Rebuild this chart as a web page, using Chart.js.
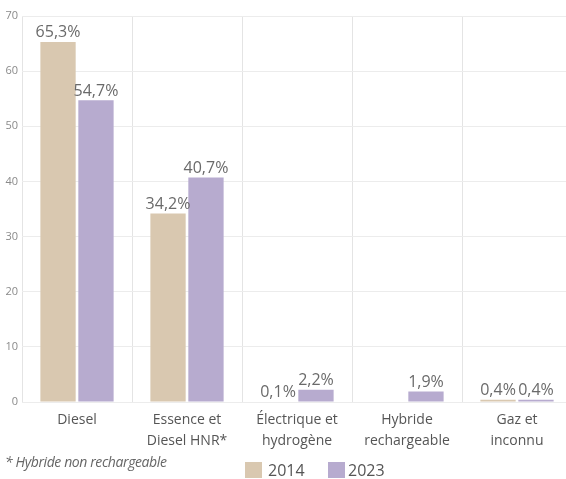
<!DOCTYPE html>
<html>
<head>
<meta charset="utf-8">
<script src="https://cdn.jsdelivr.net/npm/chart.js@4/dist/chart.umd.min.js"></script>
<style>
  html, body { margin:0; padding:0; background:#fff; overflow:hidden; }
  #wrap { position:relative; width:566px; height:479px; overflow:hidden; font-family:"Open Sans", sans-serif; }
  #note { position:absolute; left:5px; top:452px; font-size:14px; font-style:italic; color:#666; letter-spacing:-0.4px; }
  .lg-box { position:absolute; top:462px; width:17px; height:16px; }
  .lg-txt { position:absolute; top:459px; font-size:16px; color:#555; }
</style>
</head>
<body>
<div id="wrap">
  <canvas id="chart" width="572" height="479"></canvas>
  <div id="note">* Hybride non rechargeable</div>
  <div class="lg-box" style="left:245px;background:#d9c8b0"></div>
  <div class="lg-txt" style="left:268px">2014</div>
  <div class="lg-box" style="left:328px;background:#b7abcf"></div>
  <div class="lg-txt" style="left:348px">2023</div>
</div>
<script>
// Data
const categories = [
  ["Diesel"],
  ["Essence et", "Diesel HNR*"],
  ["Électrique et", "hydrogène"],
  ["Hybride", "rechargeable"],
  ["Gaz et", "inconnu"]
];
const values2014 = [65.3, 34.2, 0.1, null, 0.4];
const values2023 = [54.7, 40.7, 2.2, 1.9, 0.4];
const yTicks = [0, 10, 20, 30, 40, 50, 60, 70];

const fmt = v => v.toFixed(1).replace(".", ",") + "%";

// value labels above each bar
const barLabels = {
  id: "barLabels",
  afterDatasetsDraw(chart) {
    const ctx = chart.ctx;
    ctx.save();
    ctx.font = "16px 'Open Sans', sans-serif";
    ctx.fillStyle = "#6a6a6a";
    ctx.textAlign = "center";
    ctx.textBaseline = "bottom";
    chart.data.datasets.forEach((ds, di) => {
      chart.getDatasetMeta(di).data.forEach((bar, i) => {
        const v = ds.data[i];
        if (v == null) return;
        ctx.fillText(fmt(v), bar.x, bar.y - 1);
      });
    });
    ctx.restore();
  }
};

new Chart(document.getElementById("chart"), {
  type: "bar",
  data: {
    labels: categories,
    datasets: [
      { label: "2014", data: values2014, backgroundColor: "#d9c8b0" },
      { label: "2023", data: values2023, backgroundColor: "#b7abcf" }
    ]
  },
  options: {
    responsive: false,
    animation: false,
    layout: { padding: { top: 16, right: 0, left: 0, bottom: 0 } },
    datasets: { bar: { categoryPercentage: 0.69, barPercentage: 0.93 } },
    plugins: { legend: { display: false }, tooltip: { enabled: false } },
    scales: {
      x: {
        grid: {
          offset: true,
          drawTicks: false,
          color: c => c.index >= categories.length ? "rgba(0,0,0,0)" : "#e4e4e4"
        },
        border: { display: false },
        ticks: {
          padding: 8,
          color: "#555",
          font: { family: "'Open Sans', sans-serif", size: 14, lineHeight: 1.5 },
          maxRotation: 0
        },
        afterFit: s => { s.height = 77; }
      },
      y: {
        min: 0, max: 70,
        afterBuildTicks: s => { s.ticks = yTicks.map(v => ({ value: v })); },
        grid: { color: "#ececec", drawTicks: false },
        border: { display: false },
        ticks: {
          padding: 4,
          color: "#8a8a8a",
          font: { family: "'Open Sans', sans-serif", size: 11 }
        },
        afterFit: s => { s.width = 22; }
      }
    }
  },
  plugins: [barLabels]
});
</script>
</body>
</html>
